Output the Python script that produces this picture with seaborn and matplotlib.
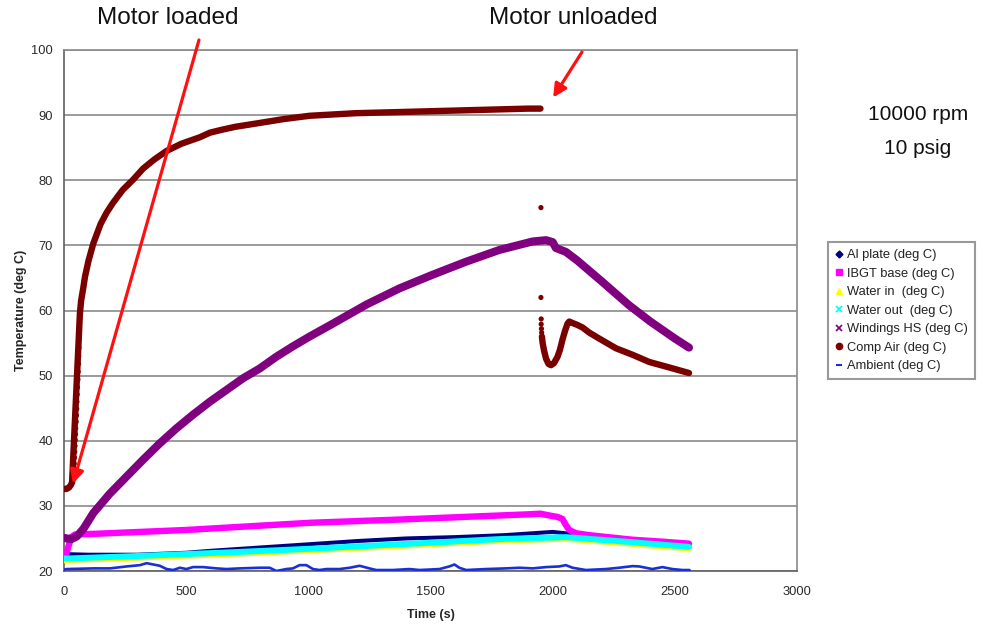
import matplotlib
matplotlib.use("Agg")
import matplotlib.pyplot as plt
import seaborn as sns
import pandas as pd
from matplotlib.lines import Line2D

sns.set_style("white")
plt.rcParams['font.family'] = ['Liberation Sans', 'DejaVu Sans']

# ---------------- data ----------------
al_t = [0, 100, 300, 500, 600, 800, 1000, 1200, 1400, 1600, 1800, 2000, 2050, 2200, 2400, 2560]
al_v = [22.6, 22.5, 22.5, 22.8, 23.1, 23.6, 24.1, 24.6, 25.0, 25.2, 25.5, 26.0, 25.8, 25.2, 24.6, 24.1]

ibgt_t = [0, 10, 20, 30, 45, 120, 500, 1005, 1373, 1700, 1900, 1950, 1990, 2020, 2040, 2055, 2068, 2095, 2150, 2327, 2450, 2558]
ibgt_v = [22.0, 22.8, 24.0, 25.2, 25.6, 25.7, 26.3, 27.4, 27.9, 28.4, 28.7, 28.8, 28.5, 28.3, 28.0, 27.0, 26.3, 25.8, 25.5, 24.8, 24.5, 24.2]

win_t = [0, 300, 700, 1000, 1373, 1782, 2054, 2300, 2558]
win_v = [21.65, 22.05, 22.65, 23.15, 23.85, 24.65, 24.95, 24.25, 23.45]

wout_t = [0, 300, 700, 1000, 1373, 1782, 2054, 2300, 2558]
wout_v = [21.9, 22.3, 22.9, 23.4, 24.1, 24.9, 25.2, 24.5, 23.7]

wind_t = [0, 11, 30, 52, 80, 120, 188, 256, 324, 392, 460, 528, 597, 665, 733, 801, 869, 937,
          1005, 1101, 1237, 1373, 1509, 1646, 1782, 1918, 1973, 2000, 2013, 2054, 2100, 2200,
          2313, 2400, 2500, 2558]
wind_v = [25.1, 25.0, 24.9, 25.3, 26.5, 28.9, 31.9, 34.5, 37.1, 39.6, 41.9, 44.0, 46.0, 47.8,
          49.6, 51.1, 52.9, 54.5, 56.0, 58.0, 60.9, 63.4, 65.5, 67.5, 69.3, 70.6, 70.8, 70.5,
          69.6, 69.0, 67.7, 64.5, 60.8, 58.3, 55.7, 54.3]

# compressed air: dense part while loaded
air_load_t = [0, 10, 20, 28, 33, 65, 70, 79, 86, 100, 120, 150, 174, 200, 240, 283, 324, 370,
              420, 480, 556, 597, 640, 700, 801, 900, 1005, 1100, 1196, 1300, 1400, 1500, 1600,
              1700, 1800, 1900, 1950]
air_load_v = [32.6, 32.6, 32.8, 33.2, 33.6, 59.5, 61.5, 63.5, 65.2, 67.6, 70.3, 73.3, 75.0, 76.5,
              78.5, 80.1, 81.8, 83.2, 84.5, 85.6, 86.6, 87.3, 87.7, 88.2, 88.8, 89.4, 89.9, 90.1,
              90.3, 90.4, 90.5, 90.6, 90.7, 90.8, 90.9, 91.0, 91.0]
# compressed air: separate samples during the fast rise and at unloading
air_dot_t = [36, 38, 40, 42, 43, 44, 45, 46, 47, 48, 50, 51, 52, 53, 54, 55, 57, 58, 59, 60, 61,
             62, 63, 64, 1952, 1952, 1953, 1953, 1954, 1955]
air_dot_v = [34.0, 34.8, 35.6, 36.5, 37.4, 38.3, 39.2, 40.1, 41.0, 41.9, 42.9, 43.9, 44.9, 46.0,
             47.1, 48.2, 49.4, 50.6, 51.8, 53.0, 54.3, 55.6, 56.9, 58.2, 75.8, 62.0, 58.7, 57.9,
             57.2, 56.6]
# compressed air: dense part after unloading
air_un_t = [1956, 1959, 1965, 1973, 1983, 1993, 2005, 2020, 2030, 2040, 2050, 2061, 2068, 2080,
            2100, 2122, 2150, 2190, 2259, 2327, 2395, 2463, 2520, 2558]
air_un_v = [56.0, 55.0, 53.8, 52.6, 51.8, 51.6, 51.9, 52.9, 54.0, 55.5, 56.8, 58.0, 58.3, 58.1,
            57.8, 57.4, 56.6, 55.7, 54.2, 53.2, 52.1, 51.4, 50.8, 50.4]

amb_t = [0, 11, 120, 188, 256, 311, 338, 379, 392, 420, 447, 474, 501, 528, 569, 624, 665, 719,
         801, 842, 869, 910, 937, 964, 992, 1019, 1046, 1074, 1128, 1169, 1210, 1250, 1278, 1346,
         1414, 1455, 1537, 1577, 1598, 1618, 1646, 1727, 1809, 1864, 1918, 1973, 2027, 2054, 2081,
         2136, 2218, 2272, 2327, 2354, 2408, 2449, 2490, 2531, 2560]
amb_v = [20.2, 20.3, 20.4, 20.4, 20.7, 20.9, 21.2, 20.9, 20.8, 20.3, 20.15, 20.5, 20.3, 20.6, 20.6,
         20.4, 20.3, 20.4, 20.5, 20.5, 20.0, 20.3, 20.4, 20.9, 20.9, 20.3, 20.15, 20.3, 20.3, 20.5,
         20.8, 20.4, 20.15, 20.15, 20.3, 20.15, 20.3, 20.7, 21.0, 20.5, 20.15, 20.3, 20.4, 20.5,
         20.4, 20.6, 20.7, 20.9, 20.5, 20.15, 20.3, 20.5, 20.75, 20.7, 20.3, 20.6, 20.3, 20.15, 20.15]

series_labels = ["Al plate (deg C)", "IBGT base (deg C)", "Water in  (deg C)", "Water out  (deg C)",
                 "Windings HS (deg C)", "Comp Air (deg C)", "Ambient (deg C)"]
x_ticks = [0, 500, 1000, 1500, 2000, 2500, 3000]
y_ticks = [20, 30, 40, 50, 60, 70, 80, 90, 100]

# ---------------- figure ----------------
W, H = 995, 626
fig = plt.figure(figsize=(W / 100, H / 100), dpi=100)
ax = fig.add_axes([64 / W, 1 - 571 / H, (797 - 64) / W, (571 - 50) / H])

C_AL, C_IB, C_WI, C_WO = "#000080", "#ff00ff", "#ffff00", "#00ffff"
C_WH, C_AIR, C_AMB = "#800080", "#7a0000", "#1a2fd6"

def line(t, v, color, lw):
    sns.lineplot(x=t, y=v, ax=ax, color=color, linewidth=lw, estimator=None, sort=False,
                 solid_capstyle="round", solid_joinstyle="round", zorder=3)

line(al_t, al_v, C_AL, 2.9)
line(ibgt_t, ibgt_v, C_IB, 4.6)
line(win_t, win_v, C_WI, 4.3)
line(wout_t, wout_v, C_WO, 4.3)
line(wind_t, wind_v, C_WH, 5.8)
line(air_load_t, air_load_v, C_AIR, 4.6)
line(air_un_t, air_un_v, C_AIR, 4.6)
sns.scatterplot(x=air_dot_t, y=air_dot_v, ax=ax, color=C_AIR, s=14, edgecolor="none", zorder=3)
line(amb_t, amb_v, C_AMB, 1.9)

ax.set_xlim(0, 3000)
ax.set_ylim(20, 100)
ax.set_xticks(x_ticks)
ax.set_yticks(y_ticks)
ax.yaxis.grid(True, color="#808080", linewidth=1.1)
ax.xaxis.grid(False)
ax.set_axisbelow(True)
for s in ax.spines.values():
    s.set_color("#8a8a8a")
    s.set_linewidth(1.2)
ax.spines["left"].set_color("#606060")
ax.spines["bottom"].set_color("#606060")
ax.tick_params(axis="both", direction="out", length=4, width=1, color="#606060",
               labelsize=9.3, labelcolor="#2a2a2a")
ax.tick_params(axis="y", pad=4)
ax.tick_params(axis="x", pad=7)
ax.set_xlabel("Time (s)", fontsize=9, fontweight="bold", labelpad=8)
ax.set_ylabel("Temperature (deg C)", fontsize=9, fontweight="bold", labelpad=3)

# legend
handles = [
    Line2D([], [], ls="none", marker="D", color=C_AL, markersize=3.5),
    Line2D([], [], ls="none", marker="s", color=C_IB, markersize=5),
    Line2D([], [], ls="none", marker="^", color=C_WI, markersize=5),
    Line2D([], [], ls="none", marker="x", color=C_WO, markersize=4.5, markeredgewidth=1.2),
    Line2D([], [], ls="none", marker="x", color=C_WH, markersize=4.5, markeredgewidth=1.2),
    Line2D([], [], ls="none", marker="o", color=C_AIR, markersize=4.5),
    Line2D([], [], ls="none", marker="_", color=C_AMB, markersize=5, markeredgewidth=1.5),
]
leg = ax.legend(handles, series_labels, loc="upper left", bbox_to_anchor=(828 / W, 1 - 242 / H),
                bbox_transform=fig.transFigure, fontsize=9.3, frameon=True, fancybox=False,
                handlelength=0.6, handletextpad=0.35, borderpad=0.55, labelspacing=0.5,
                borderaxespad=0)
leg.get_frame().set_edgecolor("#808080")
leg.get_frame().set_linewidth(1.5)
for txt in leg.get_texts():
    txt.set_color("#222222")

# annotations
fig.text(168 / W, 1 - 18 / H, "Motor loaded", fontsize=17.5, ha="center", va="center", color="#111111")
fig.text(573 / W, 1 - 18 / H, "Motor unloaded", fontsize=17.5, ha="center", va="center", color="#111111")
fig.text(918 / W, 1 - 115 / H, "10000 rpm", fontsize=15, ha="center", va="center", color="#111111")
fig.text(918 / W, 1 - 148 / H, "10 psig", fontsize=15, ha="center", va="center", color="#111111")

ax.annotate("", xy=(37, 33.4), xycoords="data", xytext=(199 / W, 1 - 40 / H),
            textcoords="figure fraction", annotation_clip=False,
            arrowprops=dict(arrowstyle="-|>", color="#ff1010", lw=2.3, mutation_scale=20,
                            shrinkA=0, shrinkB=0))
ax.annotate("", xy=(2002, 92.7), xycoords="data", xytext=(582 / W, 1 - 52 / H),
            textcoords="figure fraction", annotation_clip=False,
            arrowprops=dict(arrowstyle="-|>", color="#ff1010", lw=2.3, mutation_scale=20,
                            shrinkA=0, shrinkB=0))

fig.savefig("out.png", dpi=100)
